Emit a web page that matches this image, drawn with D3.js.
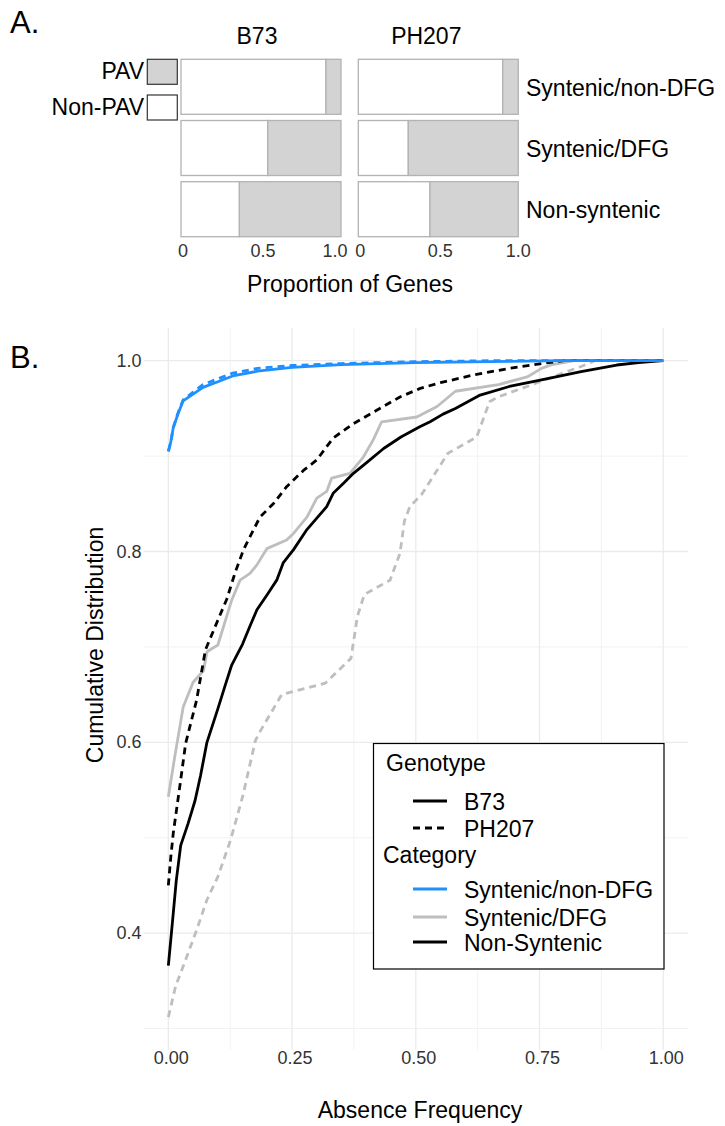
<!DOCTYPE html>
<html>
<head>
<meta charset="utf-8">
<script src="https://cdn.jsdelivr.net/npm/d3@7"></script>
<style>
  html, body { margin: 0; padding: 0; background: #fff; }
  svg { display: block; font-family: "Liberation Sans", Arial, sans-serif; }
</style>
</head>
<body>
<svg id="chart" width="725" height="1126"></svg>
<script>
// ---------------- DATA ----------------
// Panel A: proportion of PAV genes
const genotypes = ["B73", "PH207"];
const categoriesA = ["Syntenic/non-DFG", "Syntenic/DFG", "Non-syntenic"];
const pavB73 = [0.094, 0.458, 0.635];
const pavPH207 = [0.0975, 0.6875, 0.552];
const propTicks = [0, 0.5, 1.0];
const propTickLabels = ["0", "0.5", "1.0"];

// Panel B: cumulative distributions
const xTicks = [0, 0.25, 0.5, 0.75, 1.0];
const xTickLabels = ["0.00", "0.25", "0.50", "0.75", "1.00"];
const yTicks = [0.4, 0.6, 0.8, 1.0];
const yTickLabels = ["0.4", "0.6", "0.8", "1.0"];
const xMinor = [0.125, 0.375, 0.625, 0.875];
const yMinor = [0.3, 0.5, 0.7, 0.9];

const b73SynNonDfgX = [0, 0.005, 0.01, 0.02, 0.03, 0.05, 0.07, 0.1, 0.13, 0.18, 0.25, 0.35, 0.5, 0.65, 0.8, 1.0];
const b73SynNonDfgY = [0.905, 0.915, 0.93, 0.945, 0.958, 0.965, 0.972, 0.978, 0.984, 0.989, 0.993, 0.996, 0.998, 0.999, 1.0, 1.0];
const ph207SynNonDfgX = [0, 0.005, 0.01, 0.02, 0.03, 0.05, 0.07, 0.1, 0.13, 0.18, 0.25, 0.35, 0.5, 0.65, 0.8, 1.0];
const ph207SynNonDfgY = [0.905, 0.915, 0.93, 0.946, 0.959, 0.967, 0.975, 0.981, 0.987, 0.992, 0.995, 0.997, 0.999, 1.0, 1.0, 1.0];

const b73SynDfgX = [0, 0.013, 0.030, 0.050, 0.071, 0.078, 0.100, 0.128, 0.145, 0.165, 0.179, 0.199, 0.239, 0.253, 0.280, 0.300, 0.320, 0.330, 0.367, 0.394, 0.414, 0.431, 0.502, 0.543, 0.580, 0.667, 0.725, 0.754, 0.776, 0.82, 1.0];
const b73SynDfgY = [0.543, 0.585, 0.637, 0.663, 0.675, 0.695, 0.702, 0.749, 0.770, 0.777, 0.786, 0.803, 0.812, 0.819, 0.836, 0.856, 0.863, 0.877, 0.882, 0.899, 0.917, 0.936, 0.941, 0.952, 0.968, 0.975, 0.983, 0.992, 0.996, 1.0, 1.0];
const ph207SynDfgX = [0, 0.015, 0.032, 0.057, 0.078, 0.100, 0.126, 0.150, 0.176, 0.186, 0.229, 0.317, 0.369, 0.382, 0.396, 0.448, 0.468, 0.477, 0.488, 0.512, 0.565, 0.623, 0.649, 0.666, 0.725, 0.761, 0.834, 0.862, 1.0];
const ph207SynDfgY = [0.312, 0.345, 0.368, 0.403, 0.435, 0.459, 0.498, 0.543, 0.602, 0.612, 0.650, 0.662, 0.688, 0.732, 0.755, 0.770, 0.798, 0.832, 0.847, 0.860, 0.903, 0.920, 0.957, 0.962, 0.973, 0.980, 0.994, 1.0, 1.0];

const b73NonSynX = [0, 0.008, 0.016, 0.025, 0.04, 0.054, 0.065, 0.078, 0.10, 0.115, 0.128, 0.15, 0.165, 0.179, 0.20, 0.219, 0.232, 0.253, 0.28, 0.30, 0.32, 0.333, 0.355, 0.374, 0.40, 0.435, 0.47, 0.509, 0.529, 0.555, 0.58, 0.63, 0.689, 0.754, 0.834, 0.906, 0.95, 1.0];
const b73NonSynY = [0.366, 0.41, 0.455, 0.492, 0.515, 0.539, 0.565, 0.600, 0.635, 0.66, 0.681, 0.703, 0.722, 0.739, 0.755, 0.770, 0.788, 0.802, 0.823, 0.835, 0.847, 0.861, 0.872, 0.882, 0.893, 0.908, 0.920, 0.931, 0.936, 0.944, 0.950, 0.964, 0.973, 0.980, 0.9885, 0.9955, 0.998, 1.0];
const ph207NonSynX = [0, 0.005, 0.01, 0.024, 0.035, 0.057, 0.075, 0.10, 0.118, 0.135, 0.152, 0.185, 0.212, 0.239, 0.273, 0.30, 0.333, 0.374, 0.421, 0.468, 0.509, 0.55, 0.616, 0.689, 0.754, 0.80, 1.0];
const ph207NonSynY = [0.450, 0.48, 0.505, 0.557, 0.599, 0.644, 0.697, 0.728, 0.750, 0.778, 0.802, 0.836, 0.850, 0.868, 0.885, 0.896, 0.919, 0.934, 0.948, 0.962, 0.971, 0.977, 0.985, 0.992, 0.997, 1.0, 1.0];

const legendGenotypes = ["B73", "PH207"];
const legendCategories = ["Syntenic/non-DFG", "Syntenic/DFG", "Non-Syntenic"];

// ---------------- STYLE ----------------
const FONT = 23;
const TICK_FONT = 18;
const colBlue = "#1e90ff", colGrey = "#bebebe", colBlack = "#000000";
const pavFill = "#d3d3d3", barStroke = "#b3b3b3";

const svg = d3.select("#chart");

// ================= PANEL A =================
svg.append("text").attr("x", 10).attr("y", 33).attr("font-size", 31).text("A.");

const rowScale = d3.scaleBand().domain(categoriesA).range([59.3, 236.7]).paddingInner(0.101).paddingOuter(0);
const panelXRanges = { "B73": [181, 341], "PH207": [358.3, 518.3] };
const pavData = { "B73": pavB73, "PH207": pavPH207 };
const stripDx = { "B73": -4, "PH207": -12 };
const lastTickDx = { "B73": -6, "PH207": 0 };

genotypes.forEach(g => {
  const xs = d3.scaleLinear().domain([0, 1]).range(panelXRanges[g]);
  const gA = svg.append("g");
  categoriesA.forEach((c, i) => {
    const p = pavData[g][i];
    const segs = [{ x0: 0, x1: 1 - p, fill: "#ffffff" }, { x0: 1 - p, x1: 1, fill: pavFill }];
    segs.forEach(s => {
      gA.append("rect")
        .attr("x", xs(s.x0)).attr("y", rowScale(c))
        .attr("width", xs(s.x1) - xs(s.x0)).attr("height", rowScale.bandwidth())
        .attr("fill", s.fill).attr("stroke", barStroke).attr("stroke-width", 1.3);
    });
  });
  // tick labels
  propTicks.forEach((t, i) => {
    const dx = (i === propTicks.length - 1) ? lastTickDx[g] : 2;
    gA.append("text").attr("x", xs(t) + dx).attr("y", 257)
      .attr("text-anchor", "middle").attr("font-size", TICK_FONT).attr("fill", "#333")
      .text(propTickLabels[i]);
  });
  // strip label
  gA.append("text").attr("x", (panelXRanges[g][0] + panelXRanges[g][1]) / 2 + stripDx[g]).attr("y", 44)
    .attr("text-anchor", "middle").attr("font-size", FONT).text(g);
});

// right strip labels
categoriesA.forEach(c => {
  svg.append("text").attr("x", 526).attr("y", rowScale(c) + rowScale.bandwidth() / 2 + 1)
    .attr("dominant-baseline", "central").attr("font-size", FONT).text(c);
});

// PAV legend
const pavLegend = [{ label: "PAV", fill: pavFill, y: 59.3 }, { label: "Non-PAV", fill: "#ffffff", y: 95 }];
pavLegend.forEach(d => {
  svg.append("rect").attr("x", 147.3).attr("y", d.y).attr("width", 30).attr("height", 25)
    .attr("fill", d.fill).attr("stroke", "#333").attr("stroke-width", 1.2);
  svg.append("text").attr("x", 144).attr("y", d.y + 12).attr("dominant-baseline", "central")
    .attr("text-anchor", "end").attr("font-size", FONT).text(d.label);
});

svg.append("text").attr("x", 350).attr("y", 292).attr("text-anchor", "middle")
  .attr("font-size", FONT).text("Proportion of Genes");

// ================= PANEL B =================
svg.append("text").attr("x", 10).attr("y", 368).attr("font-size", 31).text("B.");

const x = d3.scaleLinear().domain([-0.05, 1.05]).range([143.6, 688.0]);
const y = d3.scaleLinear().domain([0.2777, 1.0344]).range([1049.8, 327.9]);

const grid = svg.append("g");
// minor grid
xMinor.forEach(v => grid.append("line").attr("x1", x(v)).attr("x2", x(v)).attr("y1", y.range()[1]).attr("y2", y.range()[0])
  .attr("stroke", "#f2f2f2").attr("stroke-width", 1));
yMinor.forEach(v => grid.append("line").attr("y1", y(v)).attr("y2", y(v)).attr("x1", x.range()[0]).attr("x2", x.range()[1])
  .attr("stroke", "#f2f2f2").attr("stroke-width", 1));
// major grid
xTicks.forEach(v => grid.append("line").attr("x1", x(v)).attr("x2", x(v)).attr("y1", y.range()[1]).attr("y2", y.range()[0])
  .attr("stroke", "#ebebeb").attr("stroke-width", 1.3));
yTicks.forEach(v => grid.append("line").attr("y1", y(v)).attr("y2", y(v)).attr("x1", x.range()[0]).attr("x2", x.range()[1])
  .attr("stroke", "#ebebeb").attr("stroke-width", 1.3));

// tick labels
xTicks.forEach((v, i) => svg.append("text").attr("x", x(v) + 3).attr("y", 1064)
  .attr("text-anchor", "middle").attr("font-size", TICK_FONT).attr("fill", "#333").text(xTickLabels[i]));
yTicks.forEach((v, i) => svg.append("text").attr("x", 141.5).attr("y", y(v))
  .attr("dominant-baseline", "central").attr("text-anchor", "end").attr("font-size", TICK_FONT).attr("fill", "#333").text(yTickLabels[i]));

// axis titles
svg.append("text").attr("x", 420).attr("y", 1118).attr("text-anchor", "middle").attr("font-size", FONT).text("Absence Frequency");
svg.append("text").attr("transform", "translate(103,645) rotate(-90)").attr("text-anchor", "middle")
  .attr("font-size", FONT).text("Cumulative Distribution");

// curves
const line = d3.line().x(d => x(d[0])).y(d => y(d[1]));
const zip = (a, b) => a.map((v, i) => [v, b[i]]);
const series = [
  { xs: ph207SynDfgX, ys: ph207SynDfgY, color: colGrey, dash: "7,5" },
  { xs: b73SynDfgX, ys: b73SynDfgY, color: colGrey, dash: null },
  { xs: ph207NonSynX, ys: ph207NonSynY, color: colBlack, dash: "7,5" },
  { xs: b73NonSynX, ys: b73NonSynY, color: colBlack, dash: null },
  { xs: ph207SynNonDfgX, ys: ph207SynNonDfgY, color: colBlue, dash: "7,5" },
  { xs: b73SynNonDfgX, ys: b73SynNonDfgY, color: colBlue, dash: null }
];
series.forEach(s => {
  svg.append("path").attr("d", line(zip(s.xs, s.ys)))
    .attr("fill", "none").attr("stroke", s.color).attr("stroke-width", 2.8)
    .attr("stroke-linejoin", "round")
    .attr("stroke-dasharray", s.dash);
});

// legend
const lg = svg.append("g");
lg.append("rect").attr("x", 373.5).attr("y", 743.5).attr("width", 290.5).attr("height", 225.5)
  .attr("fill", "#fff").attr("stroke", "#000").attr("stroke-width", 1.2);
lg.append("text").attr("x", 386).attr("y", 771).attr("font-size", FONT).text("Genotype");
const gKeys = [{ y: 801, dash: null }, { y: 828, dash: "7,5" }];
legendGenotypes.forEach((g, i) => {
  lg.append("line").attr("x1", 413).attr("x2", 447).attr("y1", gKeys[i].y).attr("y2", gKeys[i].y)
    .attr("stroke", "#000").attr("stroke-width", 3).attr("stroke-dasharray", gKeys[i].dash);
  lg.append("text").attr("x", 464).attr("y", gKeys[i].y + 1).attr("dominant-baseline", "central")
    .attr("font-size", FONT).text(g);
});
lg.append("text").attr("x", 383).attr("y", 863).attr("font-size", FONT).text("Category");
const cKeys = [{ y: 889, c: colBlue }, { y: 917, c: colGrey }, { y: 942, c: colBlack }];
legendCategories.forEach((c, i) => {
  lg.append("line").attr("x1", 413).attr("x2", 447).attr("y1", cKeys[i].y).attr("y2", cKeys[i].y)
    .attr("stroke", cKeys[i].c).attr("stroke-width", 3);
  lg.append("text").attr("x", 464).attr("y", cKeys[i].y + 1).attr("dominant-baseline", "central")
    .attr("font-size", FONT).text(c);
});
</script>
</body>
</html>
